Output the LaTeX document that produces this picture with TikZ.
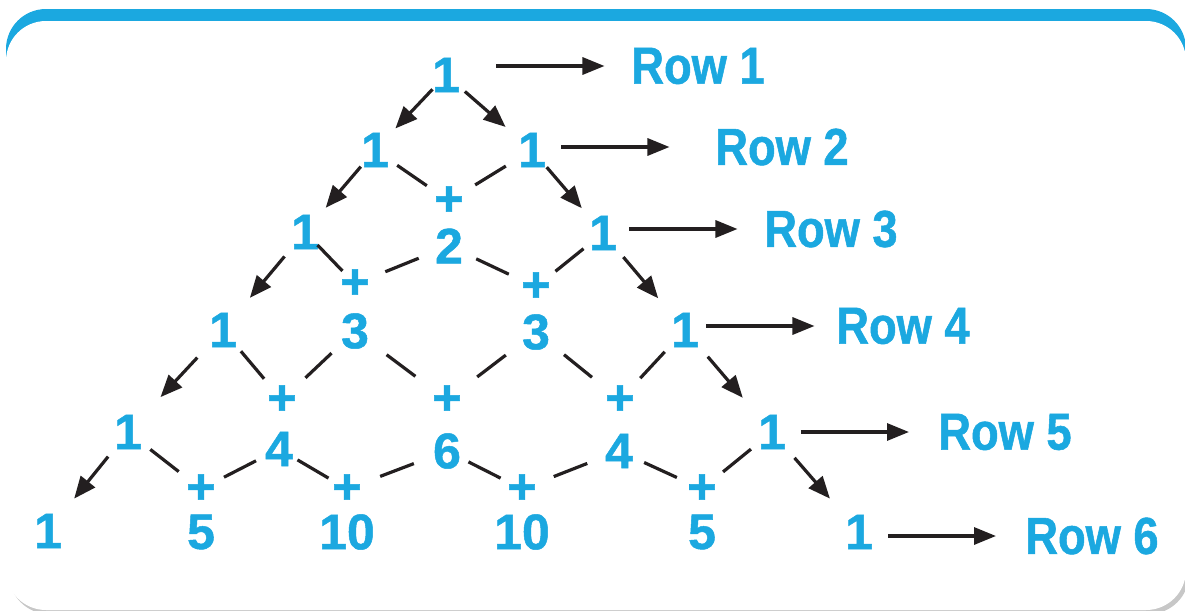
\documentclass[tikz,border=0pt]{standalone}
\usepackage{fontspec}
\setmainfont{Liberation Sans}[BoldFeatures={FakeBold=1}]
\newfontfamily\rowfont{Liberation Sans}[FakeStretch=0.87, BoldFeatures={FakeBold=1}]
\usetikzlibrary{arrows.meta,calc,positioning}

\definecolor{pascalblue}{RGB}{27,168,224}
\definecolor{inkblack}{RGB}{35,31,32}

\tikzset{
  num/.style={text=pascalblue, inner sep=0pt, font=\fontsize{25}{30}\selectfont\bfseries},
  rowlabel/.style={text=pascalblue, inner sep=0pt, font=\rowfont\fontsize{26}{31}\selectfont\bfseries},
  midseg/.style 2 args={to path={($(\tikztostart)!.5!(\tikztotarget)!#1!(\tikztostart)$) -- ($(\tikztostart)!.5!(\tikztotarget)!#2!(\tikztotarget)$)}},
  dashline/.style={draw=inkblack, line width=1.6pt, midseg={9pt}{9pt}},
  edgearrow/.style={draw=inkblack, line width=1.6pt, -{Triangle[length=11pt,width=9pt]}, midseg={16pt}{11pt}},
  rowarrow/.style={draw=inkblack, line width=1.6pt, -{Triangle[length=11pt,width=8.5pt]}, midseg={27pt}{27pt}}
}

\begin{document}
\begin{tikzpicture}[x=0.5pt, y=-0.5pt]
    \useasboundingbox (0,0) rectangle (1185,611);

    % Card with blue top edge
    \fill[black!22, rounded corners=20pt] (9,25) rectangle (1189,614);
    \fill[pascalblue, rounded corners=20pt] (6,9) rectangle (1186,590);
    \fill[white, rounded corners=20pt] (6,21) rectangle (1186,610);

    % Numbers, row by row
    \node[num] (n1a) at (446,75) {1};

    \node[num] (n2a) at (375,150) {1};
    \node[num] (n2b) at (532,150) {1};

    \node[num] (n3a) at (305,232) {1};
    \node[num] (p3a) at (449,201) {+};
    \node[num] (n3b) at (449,246) {2};
    \node[num] (n3c) at (603,233) {1};

    \node[num] (n4a) at (223,330) {1};
    \node[num] (p4a) at (355,284) {+};
    \node[num] (n4b) at (355,331) {3};
    \node[num] (p4b) at (536,287) {+};
    \node[num] (n4c) at (536,332) {3};
    \node[num] (n4d) at (685,330) {1};

    \node[num] (n5a) at (128,432) {1};
    \node[num] (p5a) at (282,400) {+};
    \node[num] (n5b) at (279,449) {4};
    \node[num] (p5b) at (447,400) {+};
    \node[num] (n5c) at (447,451) {6};
    \node[num] (p5c) at (620,400) {+};
    \node[num] (n5d) at (619,451) {4};
    \node[num] (n5e) at (772,432) {1};

    \node[num] (n6a) at (48,531) {1};
    \node[num] (p6a) at (201,489) {+};
    \node[num] (n6b) at (201,532) {5};
    \node[num] (p6b) at (347,489) {+};
    \node[num] (n6c) at (347,532) {10};
    \node[num] (p6c) at (522,489) {+};
    \node[num] (n6d) at (522,532) {10};
    \node[num] (p6d) at (702,489) {+};
    \node[num] (n6e) at (702,532) {5};
    \node[num] (n6f) at (859,532) {1};

    % Row labels
    \node[rowlabel] (l1) at (698,66) {Row 1};
    \node[rowlabel] (l2) at (782,147) {Row 2};
    \node[rowlabel] (l3) at (831,229) {Row 3};
    \node[rowlabel] (l4) at (903,326) {Row 4};
    \node[rowlabel] (l5) at (1005,432) {Row 5};
    \node[rowlabel] (l6) at (1092,536) {Row 6};

    % Outer ones carried down
    \draw[edgearrow] (n1a) to (n2a);
    \draw[edgearrow] (n1a) to (n2b);
    \draw[edgearrow] (n2a) to (n3a);
    \draw[edgearrow] (n2b) to (n3c);
    \draw[edgearrow] (n3a) to (n4a);
    \draw[edgearrow] (n3c) to (n4d);
    \draw[edgearrow] (n4a) to (n5a);
    \draw[edgearrow] (n4d) to (n5e);
    \draw[edgearrow] (n5a) to (n6a);
    \draw[edgearrow] (n5e) to (n6f);

    % Pairs added into the row below
    \draw[dashline] (n2a) to (p3a) (n2b) to (p3a);
    \draw[dashline] (n3a) to (p4a) (n3b) to (p4a);
    \draw[dashline] (n3b) to (p4b) (n3c) to (p4b);
    \draw[dashline] (n4a) to (p5a) (n4b) to (p5a);
    \draw[dashline] (n4b) to (p5b) (n4c) to (p5b);
    \draw[dashline] (n4c) to (p5c) (n4d) to (p5c);
    \draw[dashline] (n5a) to (p6a) (n5b) to (p6a);
    \draw[dashline] (n5b) to (p6b) (n5c) to (p6b);
    \draw[dashline] (n5c) to (p6c) (n5d) to (p6c);
    \draw[dashline] (n5d) to (p6d) (n5e) to (p6d);

    % Arrows to the row labels
    \draw[rowarrow, midseg={21pt}{33pt}] (n1a |- l1) to (l1.west);
    \draw[rowarrow, midseg={31pt}{23pt}] (n2b |- l2) to (l2.west);
    \draw[rowarrow] (n3c |- l3) to (l3.west);
    \draw[rowarrow] (n4d |- l4) to (l4.west);
    \draw[rowarrow] (n5e |- l5) to (l5.west);
    \draw[rowarrow] (n6f |- l6) to (l6.west);
\end{tikzpicture}
\end{document}
